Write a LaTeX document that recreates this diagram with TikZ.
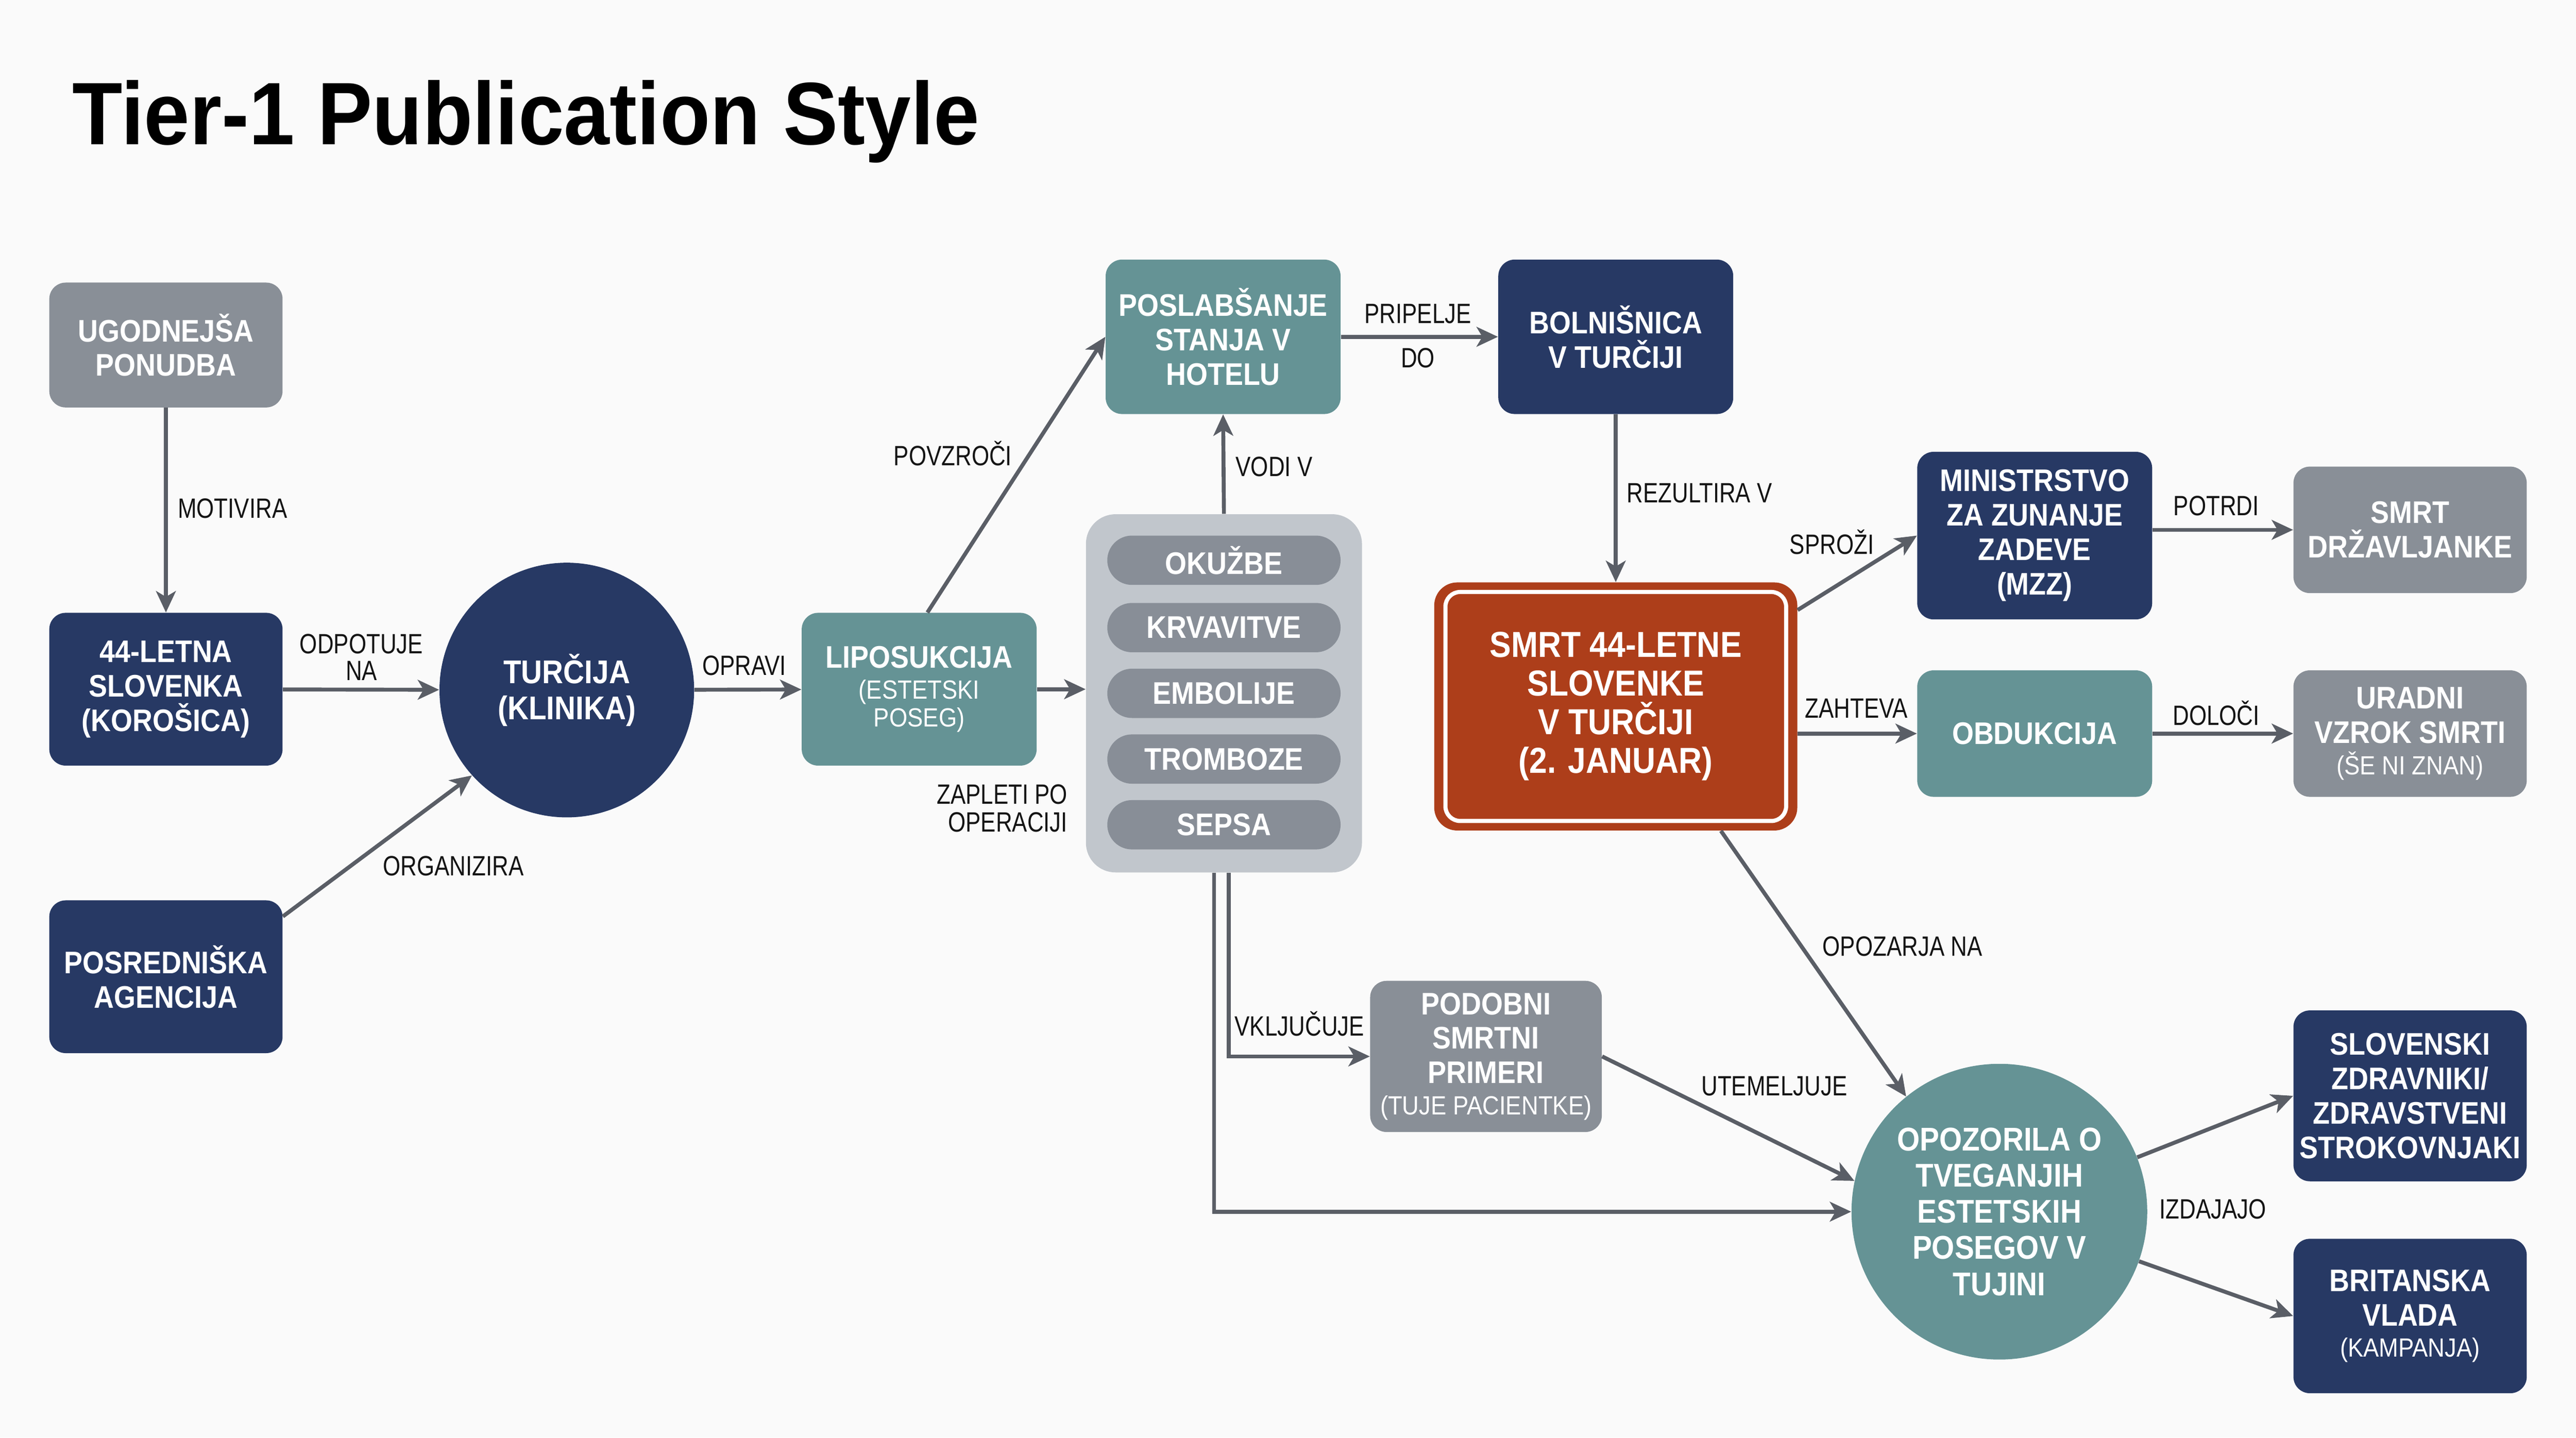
\documentclass[tikz,border=0pt]{standalone}
\usepackage{fontspec}
\setmainfont{Liberation Sans}
\newfontfamily\nf[FakeStretch=0.89]{Liberation Sans}
\newfontfamily\lf[FakeStretch=0.81]{Liberation Sans}
\newfontfamily\tf[FakeStretch=0.926]{Liberation Sans}
\usetikzlibrary{arrows.meta,calc}
\definecolor{navy}{RGB}{39,57,100}
\definecolor{tealc}{RGB}{101,147,149}
\definecolor{grayc}{RGB}{137,143,151}
\definecolor{grpbg}{RGB}{193,198,204}
\definecolor{pillc}{RGB}{136,142,151}
\definecolor{redc}{RGB}{173,62,26}
\definecolor{arrc}{RGB}{90,94,102}
\definecolor{bgc}{RGB}{250,250,250}
\newcommand\subl[1]{{\mdseries\fontsize{16}{17}\selectfont #1}}
\tikzset{
  box/.style={rounded corners=10pt, text=white, align=center, inner sep=2pt,
    font=\nf\bfseries\fontsize{19}{21}\selectfont},
  navybox/.style={box, fill=navy},
  tealbox/.style={box, fill=tealc},
  graybox/.style={box, fill=grayc},
  circ/.style={circle, text=white, align=center, inner sep=0pt},
  arr/.style={draw=arrc, line width=2.4pt, -{Stealth[length=13pt,width=12pt,inset=3.5pt]}},
  lab/.style={font=\lf\fontsize{17}{17}\selectfont, text=black!92, inner sep=0pt, align=center},
  pill/.style={rounded corners=15pt, fill=pillc, minimum width=142pt, minimum height=30pt,
    text=white, inner sep=0pt, font=\nf\bfseries\fontsize{19}{21}\selectfont}
}
\begin{document}
\begin{tikzpicture}[x=1pt,y=-1pt]
\fill[bgc] (0,0) rectangle (1568,875);
\useasboundingbox (0,0) rectangle (1568,875);

\node[anchor=base west, inner sep=0pt, font=\tf\bfseries\fontsize{54}{60}\selectfont] (title) at (44,88) {Tier-1 Publication Style};

% nodes
\node[graybox, minimum width=142pt, minimum height=76pt] (ugod) at (101,210) {UGODNEJŠA\\PONUDBA};
\node[navybox, minimum width=142pt, minimum height=93pt] (slov) at (101,419.5) {44-LETNA\\SLOVENKA\\(KOROŠICA)};
\node[navybox, minimum width=142pt, minimum height=93pt] (posred) at (101,594.5) {POSREDNIŠKA\\AGENCIJA};
\node[circ, fill=navy, minimum size=155pt, font=\nf\bfseries\fontsize{20}{22}\selectfont] (tur) at (345,420) {TURČIJA\\(KLINIKA)};
\node[tealbox, minimum width=143pt, minimum height=93pt] (lipo) at (559.5,419.5) {LIPOSUKCIJA\\[-2pt]\subl{(ESTETSKI}\\[-4pt]\subl{POSEG)}};
\node[tealbox, minimum width=143pt, minimum height=94pt] (poslab) at (744.5,205) {POSLABŠANJE\\STANJA V\\HOTELU};
\node[navybox, minimum width=143pt, minimum height=94pt] (bol) at (983.5,205) {BOLNIŠNICA\\V TURČIJI};

\node[fill=grpbg, rounded corners=18pt, minimum width=168pt, minimum height=218pt] (grp) at (745,422) {};
\node[pill] (p1) at (745,341) {OKUŽBE};
\node[pill] (p2) at (745,382) {KRVAVITVE};
\node[pill] (p3) at (745,422) {EMBOLIJE};
\node[pill] (p4) at (745,462) {TROMBOZE};
\node[pill] (p5) at (745,502) {SEPSA};

\node[fill=redc, rounded corners=14pt, minimum width=221pt, minimum height=151pt, text=white, align=center,
  font=\nf\bfseries\fontsize{22}{23.5}\selectfont] (smrt) at (983.5,430) {SMRT 44-LETNE\\SLOVENKE\\V TURČIJI\\(2. JANUAR)};
\draw[white, line width=2.5pt, rounded corners=9pt] ($(smrt.north west)+(7pt,-6pt)$) rectangle ($(smrt.south east)+(-7pt,6pt)$);

\node[navybox, minimum width=143pt, minimum height=102pt] (mzz) at (1238.5,326) {MINISTRSTVO\\ZA ZUNANJE\\ZADEVE\\(MZZ)};
\node[graybox, minimum width=142pt, minimum height=77pt] (drz) at (1467,322.5) {SMRT\\DRŽAVLJANKE};
\node[tealbox, minimum width=143pt, minimum height=77pt] (obd) at (1238.5,446.5) {OBDUKCIJA};
\node[graybox, minimum width=142pt, minimum height=77pt] (urad) at (1467,446.5) {URADNI\\VZROK SMRTI\\[-2pt]\subl{(ŠE NI ZNAN)}};
\node[graybox, minimum width=141pt, minimum height=92pt] (podobni) at (904.5,643) {PODOBNI\\SMRTNI\\PRIMERI\\[-2pt]\subl{(TUJE PACIENTKE)}};
\node[circ, fill=tealc, minimum size=180pt, font=\nf\bfseries\fontsize{20}{22}\selectfont] (opoz) at (1217,737.5) {OPOZORILA O\\TVEGANJIH\\ESTETSKIH\\POSEGOV V\\TUJINI};
\node[navybox, minimum width=142pt, minimum height=104pt] (slovzd) at (1467,667) {SLOVENSKI\\ZDRAVNIKI/\\ZDRAVSTVENI\\STROKOVNJAKI};
\node[navybox, minimum width=142pt, minimum height=94pt] (brit) at (1467,801) {BRITANSKA\\VLADA\\[-2pt]\subl{(KAMPANJA)}};

% connectors
\draw[arr] (ugod) -- (slov);
\draw[arr] (slov) -- (tur);
\draw[arr] ([yshift=-10pt]posred.north east) -- (tur.222);
\draw[arr] (tur) -- (lipo);
\draw[arr] ([xshift=5pt]lipo.north) -- (poslab.west);
\draw[arr] (lipo.east) -- (lipo.east -| grp.west);
\draw[arr] (grp.north) -- (poslab.south);
\draw[arr] (poslab) -- (bol);
\draw[arr] (bol) -- (smrt);
\draw[arr] ([yshift=-17pt]smrt.north east) -- (mzz.west);
\draw[arr] (smrt.east |- obd.west) -- (obd.west);
\draw[arr] (mzz.east |- drz.west) -- (drz.west);
\draw[arr] (obd) -- (urad);
\draw[arr] ([xshift=64pt]smrt.south) -- (opoz.129);
\draw[arr] ([xshift=3pt]grp.south) |- (podobni.west);
\draw[arr] ([xshift=-6pt]grp.south) |- (opoz.west);
\draw[arr] (podobni.east) -- (opoz.168);
\draw[arr] (opoz) -- (slovzd.west);
\draw[arr] (opoz) -- (brit.west);

% labels
\node[lab, anchor=west] (l1) at (108,309.5) {MOTIVIRA};
\node[lab, font=\lf\fontsize{17}{16.5}\selectfont] (l2) at (220,400) {ODPOTUJE\\NA};
\node[lab] (l3) at (276,527) {ORGANIZIRA};
\node[lab] (l4) at (453,405) {OPRAVI};
\node[lab] (l5) at (580,276) {POVZROČI};
\node[lab, anchor=west] (l6) at (752,284) {VODI V};
\node[lab, anchor=east, align=right] (l7) at (650,492) {ZAPLETI PO\\OPERACIJI};
\node[lab] (l8) at (863,191) {PRIPELJE};
\node[lab] (l9) at (863,218) {DO};
\node[lab, anchor=west] (l10) at (990,300) {REZULTIRA V};
\node[lab] (l11) at (1115,330) {SPROŽI};
\node[lab] (l12) at (1130,431) {ZAHTEVA};
\node[lab] (l13) at (1349,308) {POTRDI};
\node[lab] (l14) at (1349,434) {DOLOČI};
\node[lab] (l15) at (1158,576) {OPOZARJA NA};
\node[lab] (l16) at (791,623) {VKLJUČUJE};
\node[lab] (l17) at (1080,661) {UTEMELJUJE};
\node[lab] (l18) at (1347,736) {IZDAJAJO};
\end{tikzpicture}
\end{document}
